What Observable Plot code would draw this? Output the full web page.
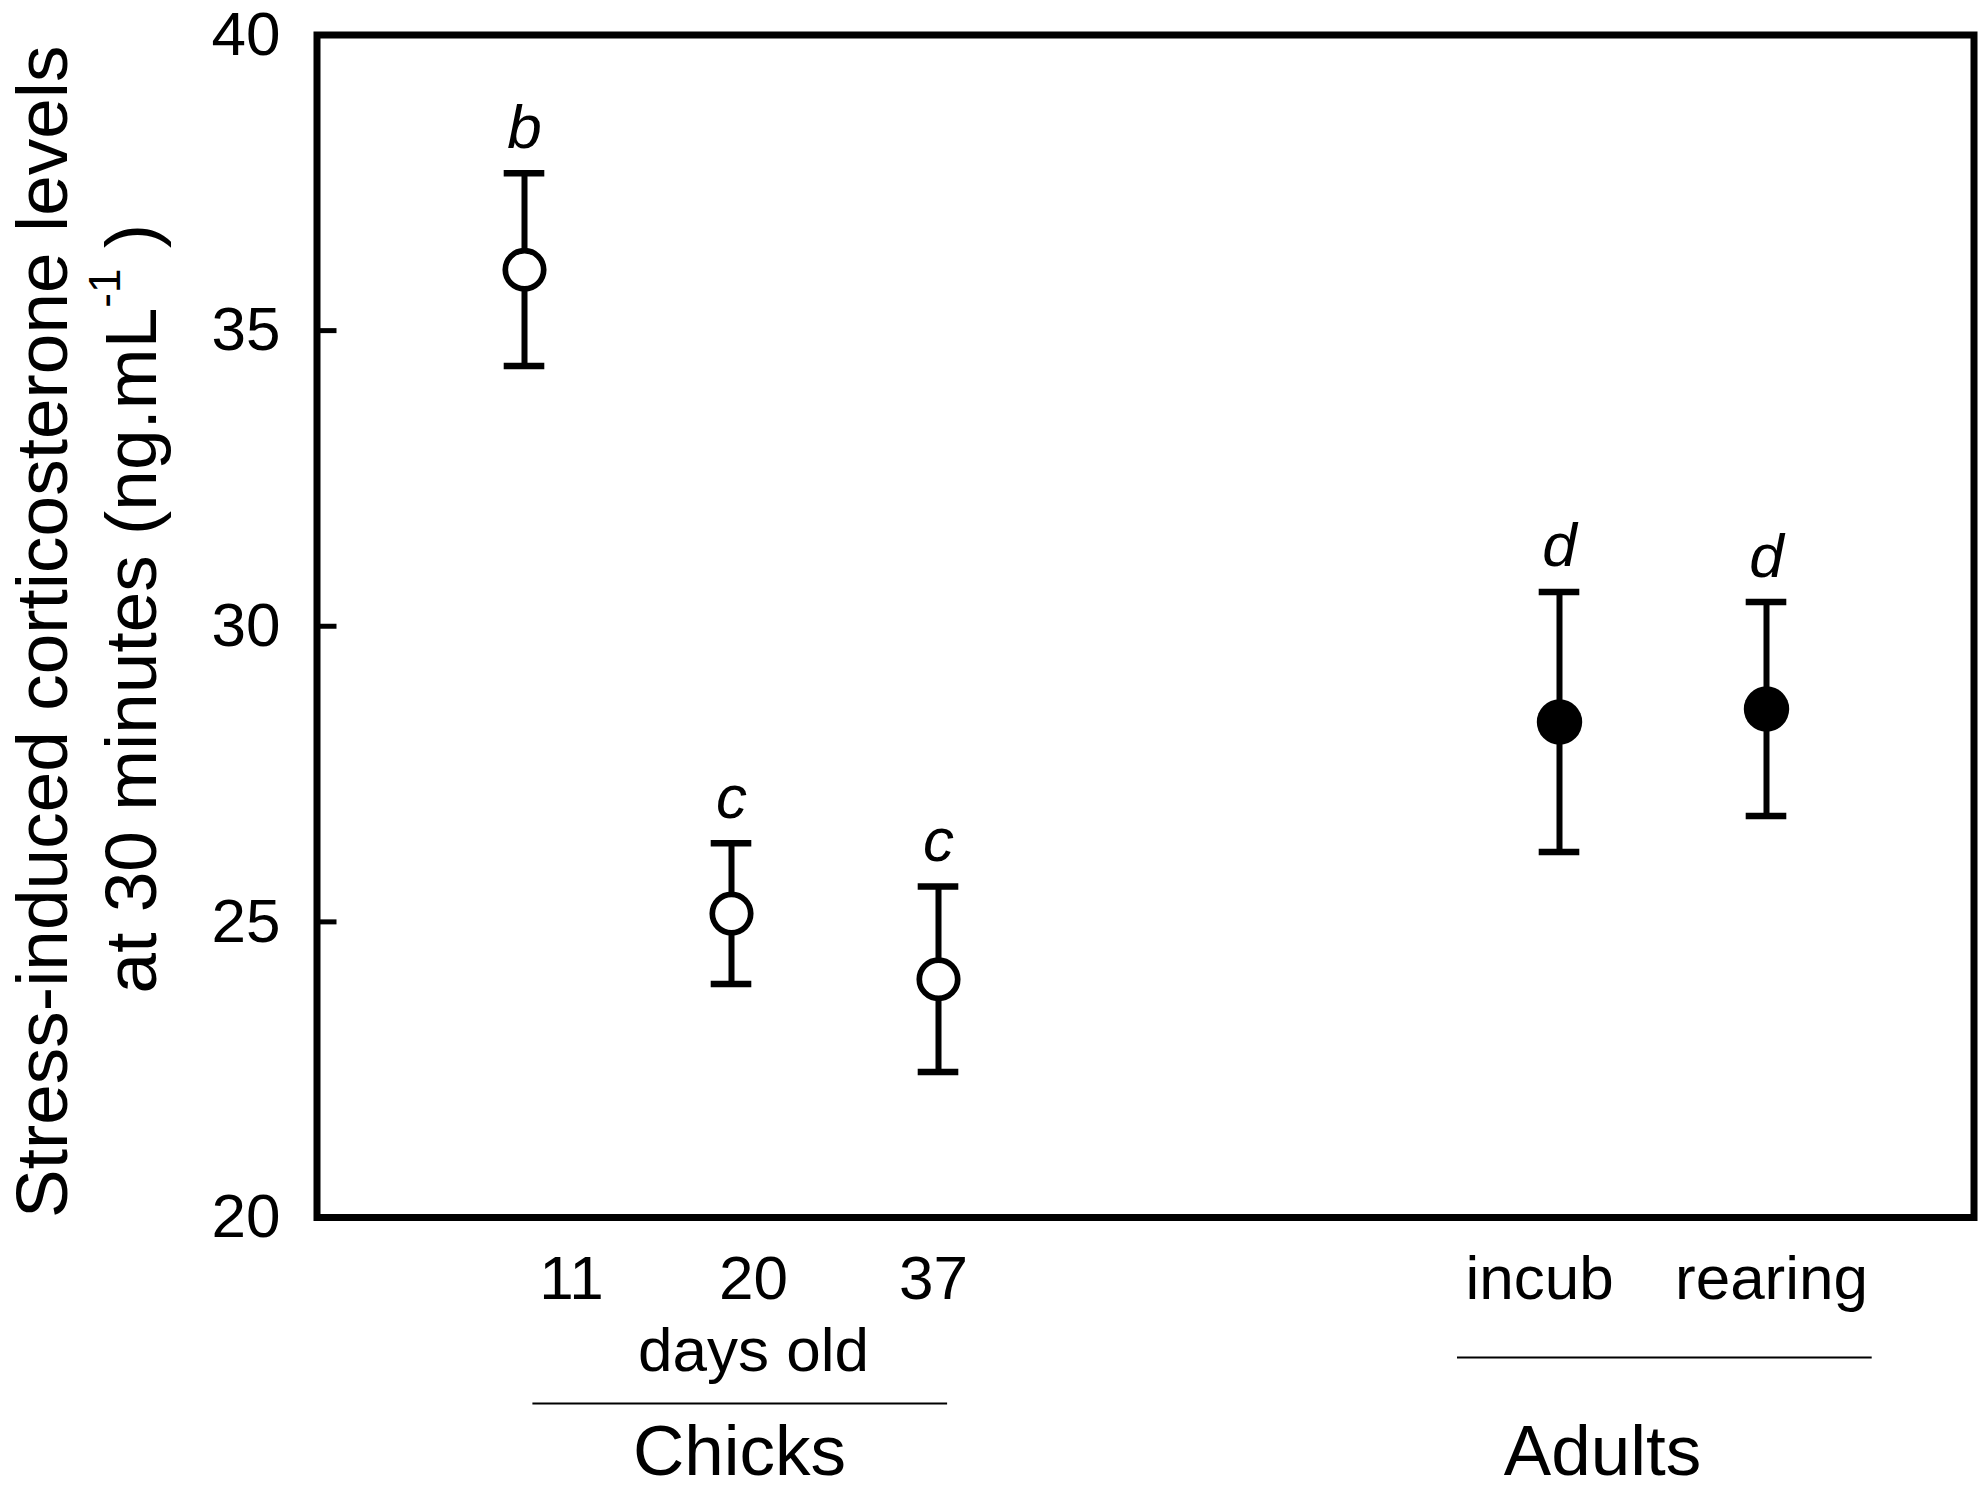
<!DOCTYPE html>
<html>
<head>
<meta charset="utf-8">
<script src="https://cdn.jsdelivr.net/npm/d3@7"></script>
<script src="https://cdn.jsdelivr.net/npm/@observablehq/plot@0.6"></script>
<style>
  html, body { margin: 0; padding: 0; background: #fff; }
  svg { display: block; }
</style>
</head>
<body>
<div id="chart"></div>
<script>
// ---------------- data ----------------
const categories = ["11", "20", "37", "incub", "rearing"];
const groups     = ["Chicks", "Chicks", "Chicks", "Adults", "Adults"];
const means      = [36.03, 25.14, 24.03, 28.38, 28.60];
const ses        = [1.63, 1.19, 1.57, 2.20, 1.81];
const letters    = ["b", "c", "c", "d", "d"];
const yTicks     = [20, 25, 30, 35, 40];
const yInnerTicks = [25, 30, 35];
const yTitle1    = "Stress-induced corticosterone levels";
const yTitle2    = ["at 30 minutes (ng.mL", "-1", " )"];
const subLabel   = "days old";
const groupNames = ["Chicks", "Adults"];

// ---------------- layout ----------------
const W = 1983, H = 1489;
const M = { left: 316.5, right: 9.5, top: 34.5, bottom: 272 };
const FONT = "'Liberation Sans', Arial, Helvetica, sans-serif";
const xDomain = ["11", "20", "37", "\u2002", "\u2003", "incub", "rearing"]; // two empty slots make the gap
const labelNudge = { "11": 47, "20": 22, "37": -5, "incub": -20, "rearing": 5 };

const rows = categories.map((c, i) => ({
  cat: c, group: groups[i], mean: means[i],
  lo: means[i] - ses[i], hi: means[i] + ses[i], letter: letters[i]
}));
const chicks = rows.filter(d => d.group === "Chicks");
const adults = rows.filter(d => d.group === "Adults");
const plotW = W - M.left - M.right;

function yTitleMark(index, scales, values, dims) {
  const cy = (dims.marginTop + dims.height - dims.marginBottom) / 2;
  const g = d3.create("svg:g")
    .attr("font-family", FONT).attr("font-size", 73).attr("fill", "black");
  g.append("text")
    .attr("transform", `translate(67,${cy + 6}) rotate(-90)`)
    .attr("text-anchor", "middle")
    .text(yTitle1);
  const t2 = g.append("text")
    .attr("transform", `translate(156,${cy - 17}) rotate(-90)`)
    .attr("text-anchor", "middle");
  t2.append("tspan").text(yTitle2[0]);
  t2.append("tspan").attr("font-size", 44).attr("dy", -36).text(yTitle2[1]);
  t2.append("tspan").attr("dy", 36).text(yTitle2[2]);
  return g.node();
}

const capOpts = { x1: "cat", x2: "cat", stroke: "black", strokeWidth: 6.5, insetLeft: -20.3, insetRight: -20.3 };

const marks = [
  Plot.frame({ stroke: "black", strokeWidth: 7 }),
  Plot.ruleY(yInnerTicks, { y: d => d, stroke: "black", strokeWidth: 5, insetRight: plotW - 20 }),
  Plot.text(yTicks, { y: d => d, text: d => String(d), frameAnchor: "left", textAnchor: "end",
    lineAnchor: "middle", dx: -36.5, fontSize: 62 }),
  // error bars
  Plot.ruleX(rows, { x: "cat", y1: "lo", y2: "hi", stroke: "black", strokeWidth: 6 }),
  Plot.ruleY(rows, { y: "hi", ...capOpts }),
  Plot.ruleY(rows, { y: "lo", ...capOpts }),
  // means
  Plot.dot(chicks, { x: "cat", y: "mean", r: 19.2, fill: "white", stroke: "black", strokeWidth: 5.7 }),
  Plot.dot(adults, { x: "cat", y: "mean", r: 22.7, fill: "black", stroke: "none" }),
  // significance letters
  Plot.text(rows, { x: "cat", y: "hi", text: "letter", lineAnchor: "bottom", dy: -25.5,
    fontStyle: "italic", fontSize: 62 }),
  // category labels
  ...categories.map(c => Plot.text([c], { x: d => d, text: d => d, frameAnchor: "bottom",
    lineAnchor: "bottom", dy: 81, dx: labelNudge[c], fontSize: 62 })),
  Plot.text([subLabel], { x: () => "20", text: d => d, frameAnchor: "bottom",
    lineAnchor: "bottom", dy: 153, dx: 22, fontSize: 62 }),
  // group brackets
  Plot.ruleY([20], { y: d => d, x1: () => "11", x2: () => "37", insetLeft: 8.4, insetRight: -9.1,
    dy: 186, stroke: "black", strokeWidth: 2 }),
  Plot.ruleY([20], { y: d => d, x1: () => "incub", x2: () => "rearing", insetLeft: -102, insetRight: -105.7,
    dy: 140, stroke: "black", strokeWidth: 2 }),
  Plot.text([groupNames[0]], { x: () => "20", text: d => d, frameAnchor: "bottom",
    lineAnchor: "bottom", dy: 257, dx: 8, fontSize: 71 }),
  Plot.text([groupNames[1]], { x: () => "incub", text: d => d, frameAnchor: "bottom",
    lineAnchor: "bottom", dy: 257, dx: 43, fontSize: 71 }),
  yTitleMark
];

const chart = Plot.plot({
  width: W, height: H,
  marginLeft: M.left, marginRight: M.right, marginTop: M.top, marginBottom: M.bottom,
  style: { fontFamily: FONT, background: "white", color: "black", overflow: "visible" },
  x: { type: "point", domain: xDomain, padding: 1, axis: null },
  y: { domain: [20, 40], axis: null },
  marks
});
document.getElementById("chart").appendChild(chart);
</script>
</body>
</html>
